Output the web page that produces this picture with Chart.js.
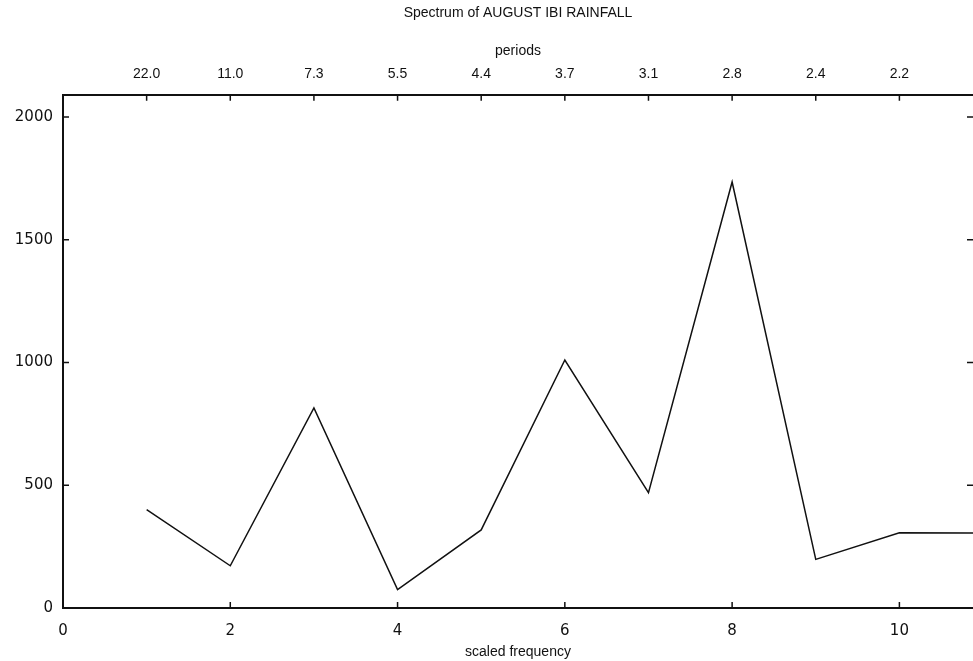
<!DOCTYPE html>
<html>
<head>
<meta charset="utf-8">
<script src="https://cdn.jsdelivr.net/npm/chart.js@4"></script>
<style>
  html, body { margin: 0; padding: 0; background: #fff; }
  #wrap { width: 973px; height: 661px; }
</style>
</head>
<body>
<div id="wrap"><canvas id="myChart"></canvas></div>
<script>
const freqs = [1, 2, 3, 4, 5, 6, 7, 8, 9, 10, 11];
const power = [401, 172, 815, 75, 318, 1010, 470, 1735, 198, 306, 305];
const periodLabels = ['22.0', '11.0', '7.3', '5.5', '4.4', '3.7', '3.1', '2.8', '2.4', '2.2'];
const yTicks = [0, 500, 1000, 1500, 2000];
const xTicks = [0, 2, 4, 6, 8, 10];

const points = freqs.map((f, i) => ({ x: f, y: power[i] }));

// short tick marks pointing into the plot, like the original
const innerTicks = {
  id: 'innerTicks',
  afterDraw(chart) {
    const { ctx, chartArea, scales } = chart;
    const len = 6;
    ctx.save();
    ctx.strokeStyle = '#111';
    ctx.lineWidth = 1.5;
    ctx.beginPath();
    scales.y.ticks.forEach(t => {
      const py = scales.y.getPixelForValue(t.value);
      ctx.moveTo(chartArea.left, py);
      ctx.lineTo(chartArea.left + len, py);
      ctx.moveTo(chartArea.right, py);
      ctx.lineTo(chartArea.right - len, py);
    });
    scales.x.ticks.forEach(t => {
      const px = scales.x.getPixelForValue(t.value);
      ctx.moveTo(px, chartArea.bottom);
      ctx.lineTo(px, chartArea.bottom - len);
    });
    scales.x2.ticks.forEach(t => {
      const px = scales.x2.getPixelForValue(t.value);
      ctx.moveTo(px, chartArea.top);
      ctx.lineTo(px, chartArea.top + len);
    });
    ctx.stroke();
    ctx.restore();
  }
};

const numFont = { family: 'DejaVu Sans', size: 15 };
const textFont = { family: 'Liberation Sans', size: 14 };

const config = {
  type: 'line',
  data: {
    datasets: [{
      data: points,
      borderColor: '#111',
      borderWidth: 1.5,
      pointRadius: 0,
      tension: 0,
      fill: false,
    }],
  },
  options: {
    responsive: true,
    maintainAspectRatio: false,
    animation: false,
    layout: { padding: { left: 0, right: 0, top: 0, bottom: 0 } },
    plugins: {
      legend: { display: false },
      tooltip: { enabled: false },
      title: {
        display: true,
        fullSize: false,
        text: 'Spectrum of AUGUST IBI RAINFALL',
        color: '#111',
        font: { family: 'Liberation Sans', size: 14, weight: 'normal' },
        padding: { top: 5, bottom: 0 },
      },
    },
    scales: {
      x: {
        type: 'linear',
        position: 'bottom',
        min: 0,
        max: 10.88,
        afterBuildTicks: s => { s.ticks = xTicks.map(v => ({ value: v })); },
        afterFit: s => { s.height = 53; },
        grid: { display: false, drawTicks: false },
        border: { display: true, color: '#111', width: 2 },
        ticks: { color: '#111', font: numFont, padding: 14 },
        title: {
          display: true,
          text: 'scaled frequency',
          color: '#111',
          font: textFont,
          padding: { top: 0, bottom: 0 },
        },
      },
      x2: {
        type: 'linear',
        position: 'top',
        min: 0,
        max: 10.88,
        afterBuildTicks: s => { s.ticks = periodLabels.map((p, i) => ({ value: i + 1 })); },
        afterFit: s => { s.height = 73; },
        grid: { display: false, drawTicks: false },
        border: { display: true, color: '#111', width: 2 },
        ticks: {
          color: '#111',
          font: textFont,
          padding: 12,
          callback: v => periodLabels[v - 1] || '',
        },
        title: {
          display: true,
          text: 'periods',
          color: '#111',
          font: textFont,
          padding: { top: 21, bottom: 0 },
        },
      },
      y: {
        type: 'linear',
        min: 0,
        max: 2090,
        afterBuildTicks: s => { s.ticks = yTicks.map(v => ({ value: v })); },
        afterFit: s => { s.width = 63; },
        grid: { display: false, drawTicks: false },
        border: { display: true, color: '#111', width: 2 },
        ticks: { color: '#111', font: numFont, padding: 10, callback: v => String(v) },
      },
    },
  },
  plugins: [innerTicks],
};

const ctx = document.getElementById('myChart');

const chart = new Chart(ctx, config);
</script>
</body>
</html>
